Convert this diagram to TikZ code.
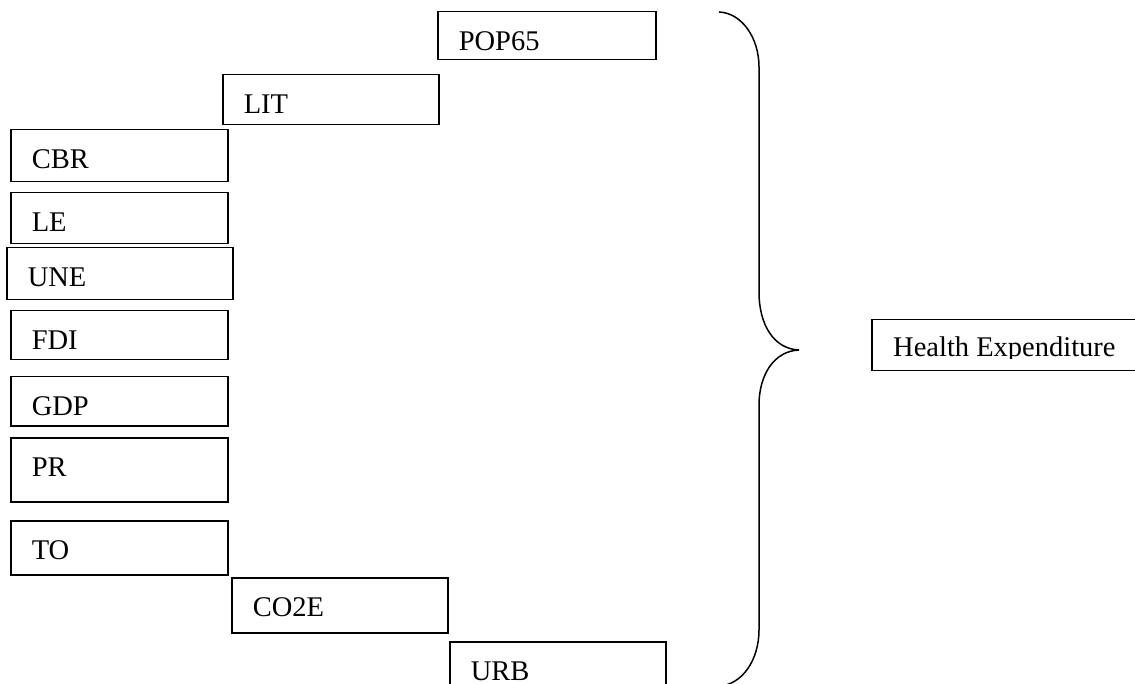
\documentclass[tikz,border=0pt]{standalone}
\usepackage{fontspec}
\setmainfont{Liberation Serif}
\begin{document}
\begin{tikzpicture}[x=1pt,y=-1pt,
  vbox/.style 2 args={draw, line width=1.5pt, anchor=north west,
    inner xsep=21pt, inner ysep=0pt, align=left,
    /utils/exec={\pgfmathsetmacro\boxtw{#1-42}\pgfmathsetmacro\boxtd{#2-38.5}},
    text width=\boxtw pt, text height=38.5pt, text depth=\boxtd pt,
    minimum width=#1pt, minimum height=#2pt,
    font=\fontsize{28.5}{34}\selectfont},
  brace/.style={draw, line width=1.5pt}]
\useasboundingbox (0,0) rectangle (1135,684);
\clip (0,0) rectangle (1135,684);

% explanatory variables
\node[vbox={218}{48}] (pop)  at (437,11)  {POP65};
\node[vbox={216}{50}] (lit)  at (222,74)  {LIT};
\node[vbox={217}{52}] (cbr)  at (10,129)  {CBR};
\node[vbox={217}{51}] (le)   at (10,192)  {LE};
\node[vbox={226}{52}] (une)  at (6,247)   {UNE};
\node[vbox={217}{49}] (fdi)  at (10,310)  {FDI};
\node[vbox={217}{49}] (gdp)  at (10,376)  {GDP};
\node[vbox={217}{64}] (pr)   at (10,437)  {PR};
\node[vbox={217}{54}] (to)   at (10,520)  {TO};
\node[vbox={216}{55}] (co2e) at (231,577) {CO2E};
% bottom edge of this box runs just past the lower border
\node[vbox={216}{44}] (urb)  at (449,641) {URB};

% dependent variable
\node[vbox={280}{51}] (he) at (871,319) {};
\begin{scope}
  \clip (he.north west) rectangle ([yshift=-40pt]he.north east);
  \node[anchor=base west, inner sep=0pt, font=\fontsize{28.5}{34}\selectfont]
    (hetext) at ([xshift=22pt,yshift=-38pt]he.north west) {Health Expenditure};
\end{scope}

% curly brace grouping the variables
\path[brace] (719,12) .. controls (742,13) and (759,38) .. (759,67)
  -- (759,292) .. controls (759,325) and (774,349) .. (799,350)
  .. controls (774,351) and (759,375) .. (759,405)
  -- (759,630) .. controls (759,660) and (742,685) .. (719,686);
\end{tikzpicture}
\end{document}
